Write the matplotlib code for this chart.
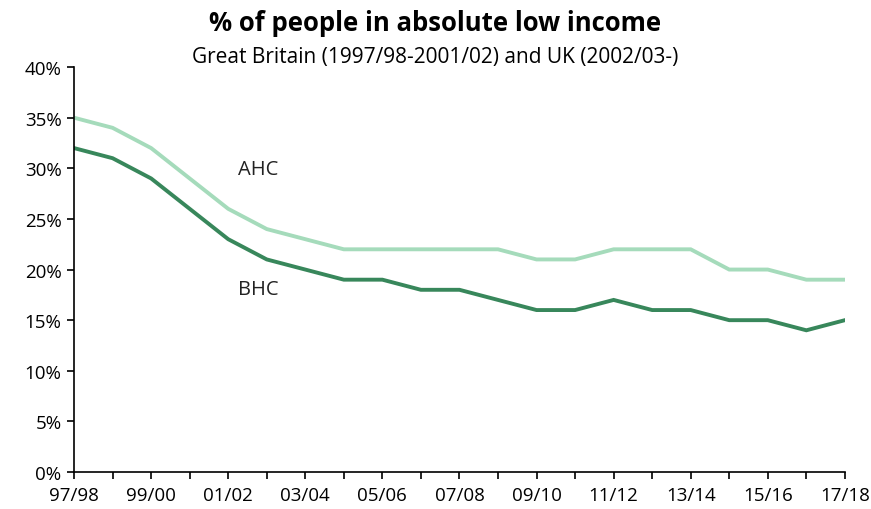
import numpy as np
import matplotlib.pyplot as plt
from matplotlib.ticker import FuncFormatter

plt.rcParams['font.family'] = ['Open Sans', 'DejaVu Sans']

years = ['97/98', '98/99', '99/00', '00/01', '01/02', '02/03', '03/04', '04/05',
         '05/06', '06/07', '07/08', '08/09', '09/10', '10/11', '11/12', '12/13',
         '13/14', '14/15', '15/16', '16/17', '17/18']
ahc = [35, 34, 32, 29, 26, 24, 23, 22, 22, 22, 22, 22, 21, 21, 22, 22, 22, 20, 20, 19, 19]
bhc = [32, 31, 29, 26, 23, 21, 20, 19, 19, 18, 18, 17, 16, 16, 17, 16, 16, 15, 15, 14, 15]

x = np.arange(len(years))

fig = plt.figure(figsize=(8.71, 5.1), dpi=100)
ax = fig.add_axes([0.085, 0.0725, 0.885, 0.794])

ax.plot(x, ahc, c="#a5dbbb", lw=2.8, solid_joinstyle='miter')
ax.plot(x, bhc, c="#38875b", lw=2.8, solid_joinstyle='miter')

ax.text(4.25, 29.9, "AHC", fontsize=14.5, va="center", ha="left", color="#222222")
ax.text(4.25, 18.1, "BHC", fontsize=14.5, va="center", ha="left", color="#222222")

ax.set_xlim(0, len(years) - 1)
ax.set_ylim(0, 40)
ax.set_xticks(x)
ax.set_xticklabels([y if i % 2 == 0 else "" for i, y in enumerate(years)])
ax.set_yticks(np.arange(0, 41, 5))
ax.yaxis.set_major_formatter(FuncFormatter(lambda v, p: "{:.0f}%".format(v)))
ax.tick_params(axis="both", direction="out", length=5, width=1.2, labelsize=13.5, colors="black")
ax.tick_params(axis="x", pad=5)
ax.tick_params(axis="y", pad=4)
ax.spines["top"].set_visible(False)
ax.spines["right"].set_visible(False)
ax.spines["left"].set_linewidth(1.2)
ax.spines["bottom"].set_linewidth(1.2)

fig.text(0.5, 0.953, "% of people in absolute low income", ha="center", va="center",
         fontsize=18.5, fontweight="bold")
fig.text(0.5, 0.887, "Great Britain (1997/98-2001/02) and UK (2002/03-)", ha="center",
         va="center", fontsize=15)

plt.savefig("out.png", dpi=100)
